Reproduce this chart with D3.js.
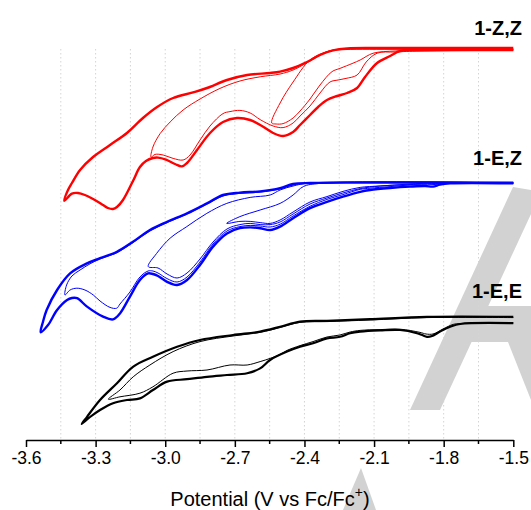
<!DOCTYPE html>
<html>
<head>
<meta charset="utf-8">
<script src="https://cdn.jsdelivr.net/npm/d3@7"></script>
<style>
  html, body { margin: 0; padding: 0; background: #fff; }
  svg { display: block; font-family: "Liberation Sans", Arial, Helvetica, sans-serif; }
</style>
</head>
<body>
<svg id="chart" width="531" height="510"></svg>
<script>
// Potential axis ticks (V vs Fc/Fc+)
const tickValues = [-3.6, -3.3, -3.0, -2.7, -2.4, -2.1, -1.8, -1.5];
const minorTicks = [-3.45, -3.15, -2.85, -2.55, -2.25, -1.95, -1.65];
const gridValues = [-3.45, -3.3, -3.15, -3.0, -2.85, -2.7, -2.55, -2.4, -2.25, -2.1, -1.95, -1.8, -1.65];

// Compound names and vertical offsets (µA) used to stack the voltammograms
const compounds = ["1-Z,Z", "1-E,Z", "1-E,E"];
const offsets = [2.5, -30.75, -64.5];

// Each cycle: [potential (V), current (µA)], scanned from -1.5 V to the switching potential and back.
// 1-Z,Z — full scan to -3.44 V
const zzFull = [
  [-1.50,0],[-1.686,0],[-1.902,-0.1],[-1.988,-0.25],[-2.031,-1.5],[-2.087,-3.25],[-2.139,-6.75],
  [-2.173,-9.5],[-2.216,-10.75],[-2.259,-11.5],[-2.303,-12.5],[-2.341,-14.25],[-2.376,-16.25],
  [-2.419,-18.75],[-2.449,-20.5],[-2.492,-21.5],[-2.535,-20.75],[-2.583,-19],[-2.634,-17.5],
  [-2.691,-17],[-2.751,-18],[-2.807,-20.75],[-2.863,-25],[-2.906,-28.25],[-2.928,-29.1],
  [-2.958,-28.5],[-2.997,-27.4],[-3.031,-26.9],[-3.053,-27],[-3.083,-27.75],[-3.109,-29.25],
  [-3.139,-32.75],[-3.182,-37.5],[-3.208,-39.25],[-3.225,-39.75],[-3.247,-39.5],[-3.268,-38.75],
  [-3.311,-37.25],[-3.346,-36.25],[-3.376,-35.75],[-3.402,-35.9],[-3.435,-37.7],
  [-3.419,-35],[-3.402,-33.25],[-3.367,-30],[-3.311,-26.75],[-3.238,-23.75],[-3.165,-20.75],
  [-3.096,-17],[-3.035,-14.25],[-2.966,-12],[-2.880,-10.6],[-2.820,-9.5],[-2.734,-7.5],
  [-2.647,-6.25],[-2.548,-5.75],[-2.505,-5.4],[-2.449,-4.5],[-2.389,-3],[-2.333,-1.25],
  [-2.277,-0.1],[-2.216,0.4],[-2.074,0.5],[-1.816,0.5],[-1.50,0.5]
];
// 1-Z,Z — switching at -3.06 V
const zzMid = [
  [-1.50,-0.1],[-1.902,-0.25],[-2.009,-0.5],[-2.087,-0.8],[-2.134,-3],[-2.173,-6.25],[-2.221,-7.1],
  [-2.255,-7.5],[-2.290,-8],[-2.333,-10.75],[-2.376,-14],[-2.419,-16.5],[-2.449,-18.25],
  [-2.492,-19.4],[-2.535,-19],[-2.591,-17.4],[-2.634,-15.75],[-2.678,-15.1],[-2.721,-15.4],
  [-2.751,-15.9],[-2.807,-19],[-2.850,-22.5],[-2.893,-26.25],[-2.923,-27.5],[-2.966,-27.1],
  [-3.009,-26.25],[-3.044,-26.1],[-3.061,-26.8],
  [-3.053,-24.25],[-3.022,-20.9],[-2.979,-18],[-2.923,-15],[-2.850,-12.25],[-2.764,-9.6],
  [-2.678,-7.75],[-2.591,-6.7],[-2.505,-6],[-2.449,-5],[-2.376,-2.75],[-2.303,-0.4],
  [-2.247,0.2],[-2.074,0.25],[-1.50,0.25]
];
// 1-Z,Z — switching at -2.54 V
const zzShort = [
  [-1.50,0.1],[-1.902,0],[-2.009,-0.25],[-2.104,-0.8],[-2.160,-2.5],[-2.191,-3.3],[-2.247,-4.6],
  [-2.281,-5.4],[-2.333,-8.75],[-2.376,-12.25],[-2.419,-15.25],[-2.449,-17],[-2.492,-18.4],
  [-2.522,-18.5],[-2.541,-18.25],
  [-2.505,-13.25],[-2.449,-8],[-2.376,-2.5],[-2.303,-0.4],[-2.225,0.1],[-1.988,0.2],[-1.50,0.2]
];

// 1-E,Z — full scan to -3.54 V
const ezFull = [
  [-1.50,-0.1],[-1.772,-0.1],[-1.816,-0.4],[-1.846,-0.9],[-1.880,-0.75],[-1.945,-0.9],
  [-2.031,-1.25],[-2.117,-1.75],[-2.160,-2.2],[-2.234,-3.4],[-2.303,-4.7],[-2.376,-6.3],
  [-2.449,-8.8],[-2.505,-10.9],[-2.548,-11.75],[-2.591,-11.3],[-2.634,-11.1],[-2.678,-11.3],
  [-2.734,-12.6],[-2.794,-15.9],[-2.850,-20.5],[-2.906,-24.25],[-2.949,-25.5],[-2.992,-24.7],
  [-3.031,-23.25],[-3.053,-22.75],[-3.074,-22.6],[-3.109,-24.25],[-3.152,-28.4],[-3.195,-32.6],
  [-3.225,-34.1],[-3.268,-33.4],[-3.337,-30.9],[-3.380,-28.8],[-3.402,-28.75],[-3.423,-29.25],
  [-3.466,-31.75],[-3.505,-35.5],[-3.537,-37.3],
  [-3.527,-34.75],[-3.511,-31.75],[-3.466,-26.75],[-3.410,-22.6],[-3.337,-20.1],[-3.281,-18.8],
  [-3.208,-17.2],[-3.139,-14.7],[-3.066,-11.75],[-2.992,-9.7],[-2.906,-7.6],[-2.820,-5.1],
  [-2.751,-3],[-2.678,-2.4],[-2.591,-2.1],[-2.505,-1.3],[-2.449,-0.25],[-2.376,0],
  [-2.160,0.1],[-1.50,0.1]
];
// 1-E,Z — switching at -3.43 V
const ezLong = [
  [-1.50,0],[-1.772,0],[-1.846,-0.4],[-1.945,-0.5],[-2.031,-0.9],[-2.117,-1.3],[-2.160,-1.6],
  [-2.234,-2.9],[-2.303,-4.1],[-2.376,-5.8],[-2.449,-8.25],[-2.505,-10.3],[-2.548,-11],
  [-2.591,-10.75],[-2.634,-10.6],[-2.678,-10.9],[-2.734,-12],[-2.794,-15.25],[-2.850,-19.75],
  [-2.906,-23.5],[-2.949,-24.75],[-2.992,-23.9],[-3.031,-22.5],[-3.053,-22],[-3.074,-22],
  [-3.109,-23.5],[-3.152,-27.25],[-3.195,-30.25],[-3.209,-31.3],[-3.238,-31.1],[-3.281,-29.5],
  [-3.310,-28],[-3.346,-26.75],[-3.381,-26.3],[-3.410,-26.75],[-3.432,-28],
  [-3.425,-25.5],[-3.402,-23.25],[-3.367,-21.75],[-3.324,-20.2],[-3.281,-19],[-3.208,-17.4],
  [-3.139,-14.9],[-3.066,-12],[-2.992,-9.9],[-2.906,-7.75],[-2.820,-5.25],[-2.751,-3.25],
  [-2.678,-2.6],[-2.591,-2.3],[-2.505,-1.5],[-2.449,-0.5],[-2.376,-0.05],[-1.50,0]
];
// 1-E,Z — switching at -3.07 V
const ezMid = [
  [-1.50,0],[-1.816,-0.1],[-1.945,-0.4],[-2.074,-0.75],[-2.160,-1.4],[-2.234,-2.5],[-2.303,-3.75],
  [-2.376,-5.25],[-2.449,-7.75],[-2.505,-9.75],[-2.548,-10.4],[-2.591,-10.4],[-2.634,-10.1],
  [-2.678,-10.4],[-2.734,-11.5],[-2.794,-14.75],[-2.850,-19],[-2.906,-22.5],[-2.949,-23.75],
  [-2.992,-22.75],[-3.031,-21.25],[-3.073,-20.9],
  [-3.037,-17.6],[-2.979,-13.8],[-2.907,-10.9],[-2.821,-7.6],[-2.735,-5.1],[-2.634,-3.6],
  [-2.548,-3],[-2.505,-1.75],[-2.449,-0.75],[-2.376,0],[-1.50,0]
];
// 1-E,Z — switching at -2.74 V
const ezShort = [
  [-1.50,0],[-1.816,0.1],[-2.074,-0.75],[-2.160,-1.1],[-2.234,-2.1],[-2.303,-3.4],[-2.376,-4.75],
  [-2.449,-7.25],[-2.505,-9.25],[-2.548,-10.1],[-2.591,-9.9],[-2.634,-9.6],[-2.678,-9.6],
  [-2.735,-10.1],
  [-2.678,-8.4],[-2.591,-6.75],[-2.505,-5.1],[-2.449,-3],[-2.405,-0.9],[-2.333,-0.1],[-1.50,0]
];

// 1-E,E — full scan to -3.36 V
const eeFull = [
  [-1.50,-1.3],[-1.729,-1.5],[-1.772,-2.2],[-1.803,-3],[-1.828,-3.8],[-1.850,-4.5],
  [-1.872,-4.7],[-1.893,-4.25],[-1.915,-3.8],[-1.988,-3],[-2.074,-3.1],[-2.160,-3.4],
  [-2.203,-3.8],[-2.247,-4.7],[-2.303,-5.1],[-2.363,-6.3],[-2.419,-7.2],[-2.475,-8.4],
  [-2.548,-10.5],[-2.591,-12.6],[-2.647,-13.8],[-2.734,-14.25],[-2.820,-14.7],[-2.906,-15.3],
  [-2.992,-15.9],[-3.053,-18],[-3.109,-20.1],[-3.165,-20.5],[-3.225,-21.3],[-3.281,-23],
  [-3.324,-24.75],[-3.360,-26.5],
  [-3.337,-24.7],[-3.281,-20.5],[-3.208,-16.3],[-3.139,-12.2],[-3.053,-9.7],[-2.949,-7.2],
  [-2.850,-5.5],[-2.708,-4.25],[-2.591,-3.4],[-2.505,-2.2],[-2.419,-0.9],[-2.303,-0.7],
  [-2.117,-0.3],[-1.872,0.3],[-1.50,0.3]
];
// 1-E,E — switching at -3.25 V
const eeShort = [
  [-1.50,-1.25],[-1.729,-1.4],[-1.759,-1.6],[-1.803,-2.75],[-1.846,-4],[-1.876,-4],
  [-1.902,-3.6],[-1.988,-2.8],[-2.074,-2.9],[-2.160,-3.1],[-2.203,-3.5],[-2.247,-4.25],
  [-2.303,-4.75],[-2.363,-5.9],[-2.419,-6.9],[-2.475,-8.1],[-2.505,-9.1],[-2.548,-10.1],
  [-2.591,-10.9],[-2.647,-11.75],[-2.721,-11.75],[-2.820,-13],[-2.906,-13.25],[-2.966,-13.8],
  [-3.053,-17.2],[-3.109,-18.8],[-3.195,-19.7],[-3.245,-20.3],
  [-3.195,-18],[-3.138,-14.7],[-3.066,-11.75],[-2.966,-8.4],[-2.850,-5.9],[-2.708,-4.5],
  [-2.591,-3.6],[-2.505,-2.4],[-2.419,-1.1],[-2.303,-0.9],[-2.117,-0.5],[-1.872,0.1],[-1.50,0.1]
];

const seriesColors = ["#ff0000", "#0000ff", "#000000"];
const traces = [
  { cycle: zzFull,  set: 0, width: 2.4 },
  { cycle: zzMid,   set: 0, width: 1 },
  { cycle: zzShort, set: 0, width: 1 },
  { cycle: ezFull,  set: 1, width: 2.4 },
  { cycle: ezLong,  set: 1, width: 1 },
  { cycle: ezMid,   set: 1, width: 1 },
  { cycle: ezShort, set: 1, width: 1 },
  { cycle: eeFull,  set: 2, width: 2.2 },
  { cycle: eeShort, set: 2, width: 1 }
];

const svg = d3.select("#chart");
const axisY = 440;

const x = d3.scaleLinear().domain([-3.6, -1.5]).range([26, 513.3]);
const y = d3.scaleLinear().domain([-95, 15]).range([axisY, 0]);

// Faint publisher watermark shapes in the background
const wm = svg.append("g").attr("fill", "#d2d2d2");
wm.append("polygon").attr("points", "513,187 531,190 531,214 440,410 410,410");
wm.append("polygon").attr("points", "470,306 531,306 531,342 454,342");
wm.append("polygon").attr("points", "508,342 531,342 531,400");
wm.append("polygon").attr("points", "361,468 376,510 343,510");

// Dotted vertical grid
svg.append("g")
  .selectAll("line")
  .data(gridValues)
  .join("line")
  .attr("x1", d => x(d)).attr("x2", d => x(d))
  .attr("y1", 49).attr("y2", axisY)
  .attr("stroke", "#d4d4d4")
  .attr("stroke-width", 1)
  .attr("stroke-dasharray", "1.5,2.5");

// Voltammograms
const line = d3.line()
  .x(d => x(d[0]))
  .y(d => y(d[1]))
  .curve(d3.curveCatmullRom.alpha(0.5));

svg.append("g")
  .selectAll("path")
  .data(traces)
  .join("path")
  .attr("fill", "none")
  .attr("stroke", d => seriesColors[d.set])
  .attr("stroke-width", d => d.width)
  .attr("stroke-linejoin", "round")
  .attr("d", d => line(d.cycle.map(p => [p[0], p[1] + offsets[d.set]])));

// Compound labels
svg.append("g")
  .selectAll("text")
  .data(compounds)
  .join("text")
  .attr("x", 522)
  .attr("y", (d, i) => y(offsets[i]) - [15, 18, 20][i])
  .attr("text-anchor", "end")
  .attr("font-weight", "bold")
  .attr("font-size", 20)
  .text(d => d);

// Potential axis
const axis = d3.axisBottom(x)
  .tickValues(tickValues)
  .tickFormat(d3.format(".1f"))
  .tickSize(7)
  .tickSizeOuter(0)
  .tickPadding(5);

const gx = svg.append("g")
  .attr("transform", `translate(0,${axisY})`)
  .call(axis);
gx.select(".domain").attr("stroke", "#000").attr("stroke-width", 1.5);
gx.selectAll(".tick line").attr("stroke", "#000").attr("stroke-width", 1.5);
gx.selectAll(".tick text")
  .attr("fill", "#000")
  .attr("font-size", 17.5)
  .attr("font-family", "\"Liberation Sans\", Arial, sans-serif")
  .text(d => d3.format(".1f")(d).replace("−", "-"));

gx.append("g")
  .selectAll("line")
  .data(minorTicks)
  .join("line")
  .attr("x1", d => x(d)).attr("x2", d => x(d))
  .attr("y1", 0).attr("y2", 4)
  .attr("stroke", "#000").attr("stroke-width", 1.5);

// Axis title
const title = svg.append("text")
  .attr("x", 270)
  .attr("y", 506)
  .attr("text-anchor", "middle")
  .attr("font-size", 20)
  .attr("fill", "#000");
title.append("tspan").text("Potential (V vs Fc/Fc");
title.append("tspan").attr("dy", -9).attr("font-size", 14).text("+");
title.append("tspan").attr("dy", 9).text(")");
</script>
</body>
</html>
